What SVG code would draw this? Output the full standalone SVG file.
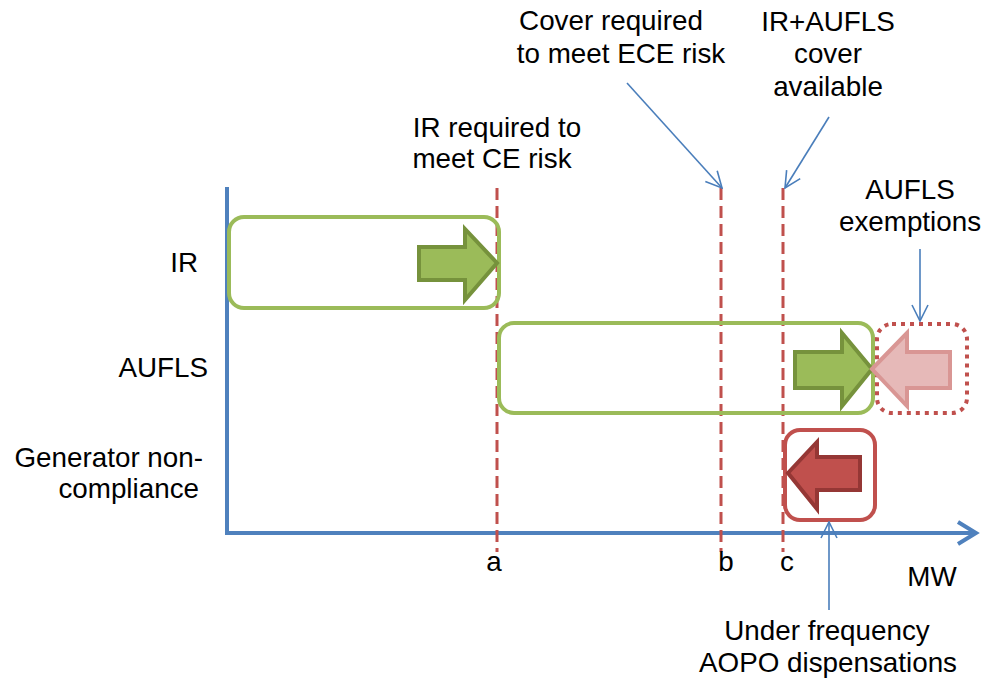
<svg xmlns="http://www.w3.org/2000/svg" width="991" height="679" viewBox="0 0 991 679">
<style>
text{font-family:"Liberation Sans",Arial,sans-serif;font-size:27.8px;fill:#000}
.c{text-anchor:middle}
.e{text-anchor:end}
.gbox{fill:none;stroke:#9BBB59;stroke-width:4}
.rdash{fill:none;stroke:#C0504D;stroke-width:3;stroke-dasharray:12 6}
.axis{fill:none;stroke:#4F81BD;stroke-width:4}
.thin{fill:none;stroke:#4A7EBB;stroke-width:1.6;marker-end:url(#v)}
.garrow{fill:#9BBB59;stroke:#76923C;stroke-width:4}
</style>
<defs>
<marker id="v" viewBox="0 0 20 20" refX="19" refY="10" markerWidth="20" markerHeight="20" markerUnits="userSpaceOnUse" orient="auto">
<path d="M3,2 L19,10 L3,18" fill="none" stroke="#4A7EBB" stroke-width="1.6"/>
</marker>
</defs>
<g id="axes">
<path class="axis" d="M227,187 V533 H975"/>
<path d="M958,522 L976,533 L958,544" fill="none" stroke="#4F81BD" stroke-width="4"/>
</g>
<g id="guides">
<line class="rdash" x1="497" y1="188" x2="497" y2="552"/>
<line class="rdash" x1="721" y1="188" x2="721" y2="552"/>
<line class="rdash" x1="783" y1="188" x2="783" y2="552"/>
</g>
<g id="ir-box">
<rect class="gbox" x="229" y="217" width="270" height="91" rx="15"/>
<path class="garrow" d="M419,247 L465,247 L465,229 L497,263 L465,300 L465,280 L419,280 Z"/>
</g>
<g id="aufls-box">
<rect class="gbox" x="499" y="323" width="374" height="90" rx="15"/>
<path class="garrow" d="M795,352 L842,352 L842,333 L872,369 L842,406 L842,388 L795,388 Z"/>
</g>
<g id="aufls-exemptions-box">
<rect x="877" y="324" width="90" height="89" rx="15" fill="none" stroke="#C0504D" stroke-width="4" stroke-dasharray="4 5"/>
<path d="M872,369 L907,333 L907,352 L950,352 L950,388 L907,388 L907,406 Z" fill="#E6B9B8" stroke="#D99694" stroke-width="4"/>
</g>
<g id="generator-box">
<rect x="785" y="430" width="90" height="90" rx="15" fill="none" stroke="#C0504D" stroke-width="4"/>
<path d="M788,473 L817,442 L817,457 L860,457 L860,490 L817,490 L817,509 Z" fill="#C0504D" stroke="#953735" stroke-width="4"/>
</g>
<g id="connectors">
<line class="thin" x1="627" y1="83" x2="722" y2="188"/>
<line class="thin" x1="829" y1="117" x2="785" y2="188"/>
<line class="thin" x1="920" y1="249" x2="920" y2="321"/>
<line class="thin" x1="829" y1="610" x2="829" y2="522"/>
</g>
<g id="labels">
<text class="c" x="611" y="30">Cover required</text>
<text class="c" x="621" y="63">to meet ECE  risk</text>
<text class="c" x="828" y="31">IR+AUFLS</text>
<text class="c" x="828" y="63">cover</text>
<text class="c" x="828" y="96">available</text>
<text class="c" x="497" y="137">IR required to</text>
<text class="c" x="492" y="168">meet CE risk</text>
<text class="c" x="910" y="199">AUFLS</text>
<text class="c" x="910" y="231">exemptions</text>
<text class="e" x="198" y="272">IR</text>
<text class="e" x="208" y="377">AUFLS</text>
<text class="e" x="203" y="467">Generator non-</text>
<text class="e" x="199" y="498">compliance</text>
<text class="c" x="494" y="571">a</text>
<text class="c" x="726" y="571">b</text>
<text class="c" x="787" y="571">c</text>
<text class="c" x="932" y="586">MW</text>
<text class="c" x="827" y="640">Under frequency</text>
<text class="c" x="828" y="672">AOPO dispensations</text>
</g>
</svg>
